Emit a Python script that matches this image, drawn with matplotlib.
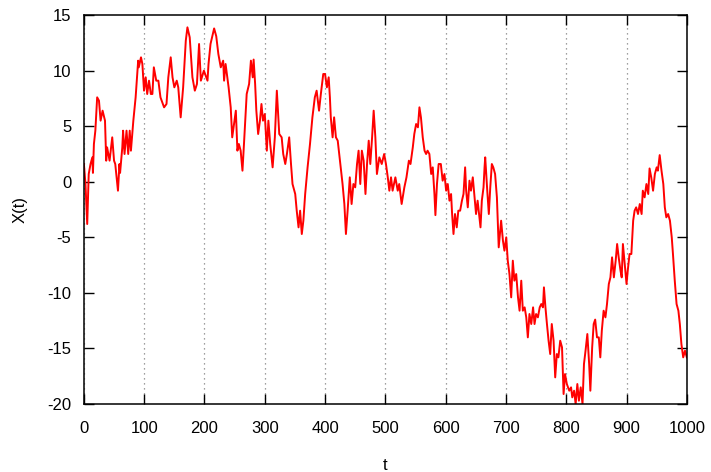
import matplotlib
matplotlib.use("Agg")
import matplotlib.pyplot as plt

# values
t_values = [0, 2.6, 5.5, 8, 11, 14, 15, 16.6, 19, 22, 25, 27.7, 31, 35, 37, 38.5, 42.6, 47, 50, 52,
            56.5, 59, 60, 63.7, 65, 67.4, 70.7, 73.5, 76, 78, 82, 85.8, 90, 91, 94.7, 97, 99.7, 102.5,
            105, 108, 111, 113.6, 116, 120, 123.5, 127, 133, 137, 140, 144, 147, 150, 154, 156.5, 160.5,
            164.6, 169, 171.7, 175.5, 180, 184, 187.5, 191, 194, 199, 205, 206.7, 210, 216, 219.5, 223,
            227, 231, 232.5, 235, 240, 243.5, 246, 249, 252, 254.6, 257, 260, 263, 265.5, 270, 274, 277,
            280, 281.5, 284, 286, 289, 292, 294.5, 297, 300, 303.4, 306, 309, 313, 316.7, 320, 324, 328,
            330.6, 334, 336.7, 340.5, 343.5, 346, 350.5, 353, 356, 358.6, 361.4, 364, 367, 371, 375, 379,
            383, 386, 390, 393, 397, 400, 403, 406, 408, 409.5, 412.5, 415, 418, 421, 424.7, 429, 432,
            434.6, 437.4, 441, 444, 447, 450, 453, 455.6, 458.4, 461, 464, 467, 469.6, 472.4, 475, 478,
            480.6, 483.4, 486, 490, 494, 498, 501, 504, 506.6, 509.4, 512, 516.6, 520.5, 523, 527, 531.5,
            535, 539, 541.7, 545.5, 548, 551, 554, 556.5, 559, 562, 565, 567.6, 570, 573, 576, 578.6,
            581.4, 583, 585.6, 588.4, 592, 595, 598, 600.8, 603.5, 606.3, 609, 610.7, 613, 615.5, 618.4,
            621, 624, 627, 629.6, 632.3, 634, 636.7, 639.5, 642, 645, 648, 650.4, 653, 656, 657.8, 660,
            662.8, 664.5, 665.6, 669, 671.6, 674, 676.6, 679, 682, 685, 688, 692, 695, 697.5, 700.5, 703,
            705.8, 708.7, 711.4, 714, 717, 720, 722.6, 725.4, 728, 731, 733.7, 736.3, 739, 742, 745,
            747.4, 750, 753, 756, 758.6, 761.4, 763, 765.5, 768, 770.7, 773.4, 776, 779, 781.7, 784.4,
            787, 790, 793, 795.6, 798, 801, 805, 808, 810, 813, 815.6, 818.4, 821, 824, 827, 829.4, 832,
            835, 838, 840, 843, 845.5, 848, 851, 854, 856.5, 859, 862, 865, 867.6, 870.6, 873.3, 876,
            879, 882, 884.4, 887, 890, 892, 894, 897, 900, 902, 905, 908, 911, 913.4, 916, 919, 922, 925,
            927, 930, 933, 936, 938.2, 941, 944, 947, 950, 952, 955, 958, 961, 963.5, 966, 969, 972, 975,
            977, 980, 983, 986, 988.4, 991, 994, 997, 1000]

x_values = [1.6, -0.2, -3.8, 0.7, 1.6, 2.2, 0.8, 3.4, 4.6, 7.6, 7.3, 5.5, 6.4, 5.5, 1.9, 3.1, 1.9, 4.0,
            1.9, 1.6, -0.8, 1.6, 0.8, 3.1, 4.6, 2.5, 4.6, 2.5, 4.6, 2.8, 5.5, 7.6, 10.9, 10.3, 11.2, 10.6,
            8.2, 9.4, 7.9, 9.1, 7.9, 7.9, 10.3, 9.1, 9.1, 7.6, 6.7, 7.0, 9.4, 11.2, 9.4, 8.5, 9.1, 8.5,
            5.8, 8.5, 12.7, 13.9, 13.0, 9.4, 8.2, 8.8, 12.4, 9.1, 10.0, 9.1, 10.6, 12.4, 13.8, 13.1, 11.5,
            10.3, 10.9, 9.1, 10.6, 8.5, 6.7, 4.0, 5.2, 6.4, 2.8, 3.4, 2.8, 1.0, 3.4, 7.9, 8.8, 10.9, 9.4,
            11.0, 8.8, 6.4, 4.3, 5.5, 7.0, 5.5, 6.1, 2.8, 5.5, 3.4, 1.3, 4.0, 8.2, 4.3, 4.0, 2.5, 1.6, 2.5,
            4.0, 1.6, -0.2, -1.1, -2.6, -4.1, -2.6, -4.7, -3.5, -1.1, 1.3, 3.4, 5.8, 7.6, 8.2, 6.4, 7.9,
            9.7, 9.7, 8.5, 9.4, 7.6, 5.8, 4.0, 5.8, 4.0, 3.7, 1.9, -0.2, -2.0, -4.7, -2.6, 0.4, -2.0, -0.2,
            -0.5, 1.6, 2.8, -0.2, 2.8, 1.9, -1.1, 1.6, 3.7, 1.6, 4.0, 6.4, 4.0, 0.7, 2.2, 1.6, 2.5, 1.6,
            0.4, -0.8, 0.4, -0.8, 0.4, -0.8, -0.2, -2.0, -0.5, 0.4, 1.9, 1.6, 3.1, 4.3, 5.2, 4.9, 6.7, 5.8,
            4.0, 2.8, 2.5, 2.8, 2.5, 0.7, 1.3, -1.1, -3.0, -0.2, 1.6, 1.6, 0.1, 0.7, -0.8, -0.2, -1.7,
            -1.1, -2.9, -4.7, -2.9, -4.1, -2.6, -2.6, -1.7, -1.1, 1.3, -0.8, -2.3, 0.1, -0.8, 0.4, -1.4,
            -2.9, -1.7, -3.2, -4.1, -1.7, -0.5, 1.3, 2.2, -0.8, -2.9, -0.5, 1.6, 1.3, 0.7, -1.4, -5.9,
            -3.5, -5.3, -6.2, -5.0, -7.1, -8.3, -10.4, -7.1, -8.9, -8.3, -10.4, -11.6, -8.9, -11.6, -11.3,
            -12.2, -14.0, -11.9, -12.8, -11.3, -12.8, -11.9, -12.2, -11.3, -11.0, -11.3, -9.5, -11.3,
            -12.8, -14.3, -15.5, -12.8, -14.3, -17.6, -15.5, -15.8, -14.3, -14.9, -19.1, -17.3, -18.2,
            -18.8, -18.5, -19.4, -18.8, -20.0, -18.2, -19.7, -18.5, -20.0, -16.4, -15.2, -13.7, -16.4,
            -18.8, -14.9, -12.8, -12.4, -14.0, -14.0, -15.8, -13.4, -11.6, -12.2, -11.0, -9.2, -8.6, -6.8,
            -8.6, -7.1, -5.6, -6.8, -8.0, -8.6, -5.6, -7.4, -9.2, -8.0, -6.5, -6.5, -3.5, -2.6, -2.3,
            -2.9, -2.0, -2.9, -0.8, -1.4, -0.2, -1.1, 1.2, 0.4, -0.8, 0.7, 1.3, 1.0, 2.4, 1.0, -0.2, -2.3,
            -3.2, -2.9, -3.5, -5.0, -6.5, -8.9, -11.0, -11.6, -12.8, -14.6, -15.8, -15.2, -15.8]

x_ticks = [0, 100, 200, 300, 400, 500, 600, 700, 800, 900, 1000]
y_ticks = [-20, -15, -10, -5, 0, 5, 10, 15]

plt.rcParams['font.family'] = ['Liberation Sans', 'DejaVu Sans']
plt.rcParams['axes.unicode_minus'] = False

fig, ax = plt.subplots(figsize=(7.11, 4.72), dpi=100)
fig.subplots_adjust(left=0.118, right=0.966, bottom=0.144, top=0.968)

ax.plot(t_values, x_values, color="#ff0000", linewidth=1.4)

ax.set_xlim(0, 1000)
ax.set_ylim(-20, 15)
ax.set_xticks(x_ticks)
ax.set_yticks(y_ticks)

# gnuplot-like: vertical dotted grid only, ticks inside on all sides
ax.xaxis.grid(True, linestyle=(0, (1, 3)), color="#808080", linewidth=0.9)
ax.tick_params(direction="in", length=7, width=1, top=True, right=True,
               labelsize=12, colors="black")
ax.tick_params(axis="x", pad=12)
ax.tick_params(axis="y", pad=9)
for spine in ax.spines.values():
    spine.set_linewidth(1.1)

ax.set_xlabel("t", fontsize=12, labelpad=16)
ax.set_ylabel("X(t)", fontsize=12, labelpad=14)

plt.savefig("out.png", dpi=100)
